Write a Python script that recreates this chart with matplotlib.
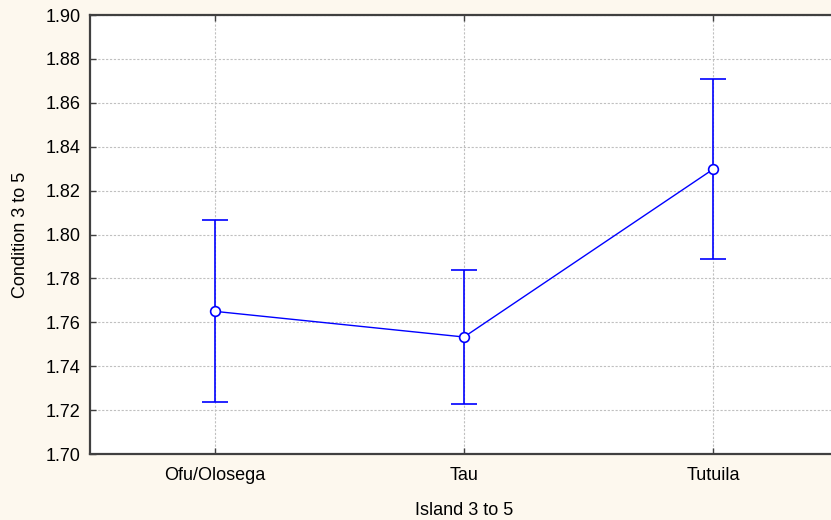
import matplotlib
matplotlib.use("Agg")
import matplotlib.pyplot as plt
import numpy as np

islands = ["Ofu/Olosega", "Tau", "Tutuila"]
means = [1.765, 1.7533, 1.8298]
upper = [1.8066, 1.7838, 1.8708]
lower = [1.7237, 1.7228, 1.7888]
y_ticks = [1.70, 1.72, 1.74, 1.76, 1.78, 1.80, 1.82, 1.84, 1.86, 1.88, 1.90]

plt.rcParams["font.family"] = ["Liberation Sans", "DejaVu Sans"]

W, H = 831, 520
fig = plt.figure(figsize=(W / 100, H / 100), dpi=100)
fig.patch.set_facecolor("#FDF8EE")

left, right, top, bottom = 90, 838, 15, 454
ax = fig.add_axes([left / W, 1 - bottom / H, (right - left) / W, (bottom - top) / H])
ax.set_facecolor("white")

x = np.arange(len(islands))
m = np.array(means)
yerr = np.vstack([m - np.array(lower), np.array(upper) - m])
ax.errorbar(x, m, yerr=yerr, color="#0000FF", lw=1.0, elinewidth=1.2,
            capsize=9.5, capthick=1.2, marker="o", markersize=7,
            markerfacecolor="white", markeredgecolor="#0000FF",
            markeredgewidth=1.2, zorder=3)

ax.set_xlim(-0.5, 2.5)
ax.set_ylim(1.70, 1.90)
ax.set_xticks(x)
ax.set_xticklabels(islands)
ax.set_yticks(y_ticks)
ax.set_yticklabels([f"{v:.2f}" for v in y_ticks])

ax.grid(True, color="#C0C0C0", linestyle=(0, (2, 1.5)), linewidth=0.8)
ax.set_axisbelow(True)

for s in ax.spines.values():
    s.set_color("#404040")
    s.set_linewidth(1.6)

ax.tick_params(axis="both", direction="in", length=4, width=1, color="#404040",
               labelsize=13, top=True, labelcolor="black")
ax.tick_params(axis="x", pad=9)
ax.tick_params(axis="y", pad=7)

ax.set_xlabel("Island 3 to 5", fontsize=13, labelpad=13)
ax.set_ylabel("Condition 3 to 5", fontsize=13, labelpad=11.5)

fig.savefig("out.png", dpi=100, facecolor=fig.get_facecolor())
